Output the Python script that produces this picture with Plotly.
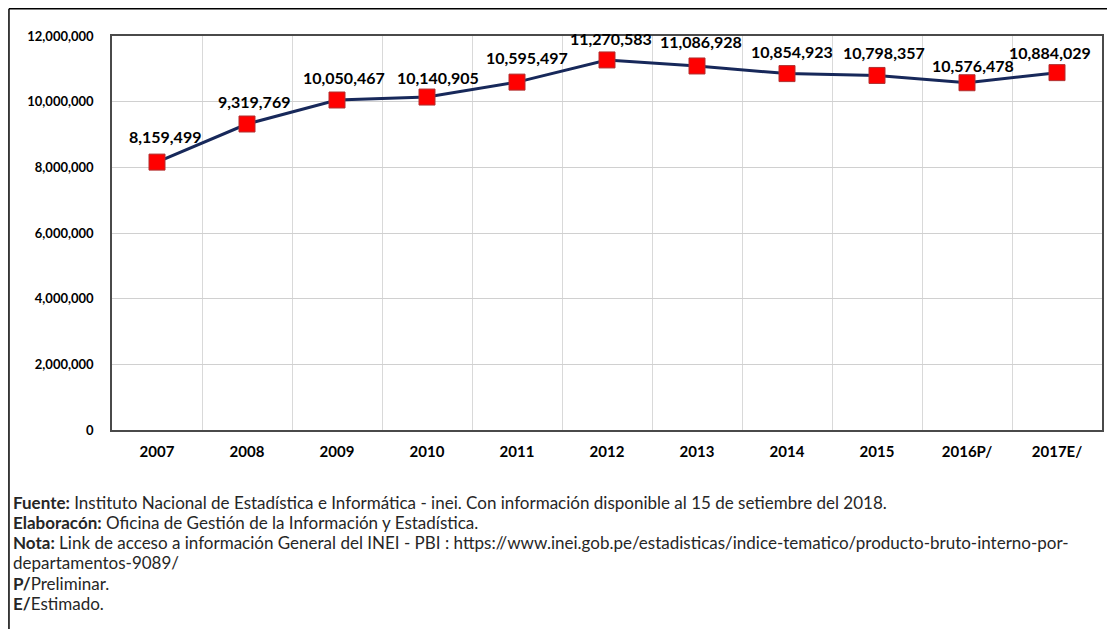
import plotly.graph_objects as go

years = ["2007", "2008", "2009", "2010", "2011", "2012", "2013", "2014", "2015", "2016P/", "2017E/"]
values = [8159499, 9319769, 10050467, 10140905, 10595497, 11270583, 11086928, 10854923, 10798357, 10576478, 10884029]
labels = [f"{v:,}" for v in values]

notes = [
    "<b>Fuente:</b> Instituto Nacional de Estadística e Informática - inei. Con información disponible al 15 de setiembre del 2018.",
    "<b>Elaboracón:</b> Oficina de Gestión de la Información y Estadística.",
    "<b>Nota:</b> Link de acceso a información General del INEI - PBI : https://www.inei.gob.pe/estadisticas/indice-tematico/producto-bruto-interno-por-",
    "departamentos-9089/",
    "<b>P/</b>Preliminar.",
    "<b>E/</b>Estimado.",
]

# label offsets (styling, pixels)
label_dx = [8, 7, 7, 11, 10, 4, 4, 5, 7, 6, -7]
label_dy = [26, 23, 23, 20, 25, 21, 24, 22, 23, 17, 20]

# page has an 8px body margin; figure is sized to fit inside the window
OFF = 8
W, H = 1115 - 2 * OFF, 637 - 2 * OFF
L, R, T, B = 112 - OFF, 1104 - OFF, 36 - OFF, 430 - OFF

fig = go.Figure()
fig.add_trace(go.Scatter(
    x=years, y=values, mode="lines+markers",
    line=dict(color="#17285a", width=3),
    marker=dict(symbol="square", size=16, color="#ff0000", line=dict(color="#b03030", width=1)),
    cliponaxis=False, showlegend=False,
))

# data labels: x given as category index so the category axis maps them correctly
for i, (yv, t, dx, dy) in enumerate(zip(values, labels, label_dx, label_dy)):
    fig.add_annotation(x=i, y=yv, xref="x", yref="y", text=t, showarrow=False, xshift=dx, yshift=dy,
                       xanchor="center", yanchor="middle",
                       font=dict(family="Lato", size=16, color="#000000", weight="bold"))

fig.update_layout(
    width=W, height=H,
    margin=dict(l=L, r=W - R, t=T, b=H - B, pad=0),
    paper_bgcolor="white", plot_bgcolor="white",
    font=dict(family="Lato", color="#000000"),
)
fig.update_xaxes(
    type="category", categoryorder="array", categoryarray=years,
    range=[-0.5, len(years) - 0.5], tickson="boundaries",
    showgrid=True, gridcolor="#d9d9d9", gridwidth=1,
    showline=True, linecolor="#4a4a4a", linewidth=1.5, mirror=True,
    ticks="outside", ticklen=15, tickcolor="rgba(0,0,0,0)", ticklabelstandoff=7,
    tickfont=dict(family="Lato", size=15, weight="bold", color="#000"),
)
fig.update_yaxes(
    range=[0, 12000000], dtick=2000000, tickformat=",",
    showgrid=True, gridcolor="#d0d0d0", gridwidth=1,
    showline=True, linecolor="#4a4a4a", linewidth=1.5, mirror=True,
    ticks="outside", ticklen=14, tickcolor="rgba(0,0,0,0)",
    tickfont=dict(family="Lato", size=13, weight="bold", color="#000"),
    zeroline=False,
)

def px(xp):
    return (xp - OFF - L) / (R - L)

def py(yp):
    return (B - (yp - OFF)) / (B - T)

# outer frame (left and top edges visible)
fig.add_shape(type="line", xref="paper", yref="paper", x0=px(8.75), x1=px(1120), y0=py(8.75), y1=py(8.75),
              line=dict(color="#000", width=1.5))
fig.add_shape(type="line", xref="paper", yref="paper", x0=px(8.75), x1=px(8.75), y0=py(8.75), y1=py(640),
              line=dict(color="#000", width=1.5))

note_y = [502, 522, 542, 562, 583, 603]
for t, yy in zip(notes, note_y):
    fig.add_annotation(xref="paper", yref="paper", x=px(11), y=py(yy), text=t, showarrow=False,
                       xanchor="left", yanchor="middle", align="left",
                       font=dict(family="Lato", size=17, color="#262626"))

fig.write_html("out.html")
